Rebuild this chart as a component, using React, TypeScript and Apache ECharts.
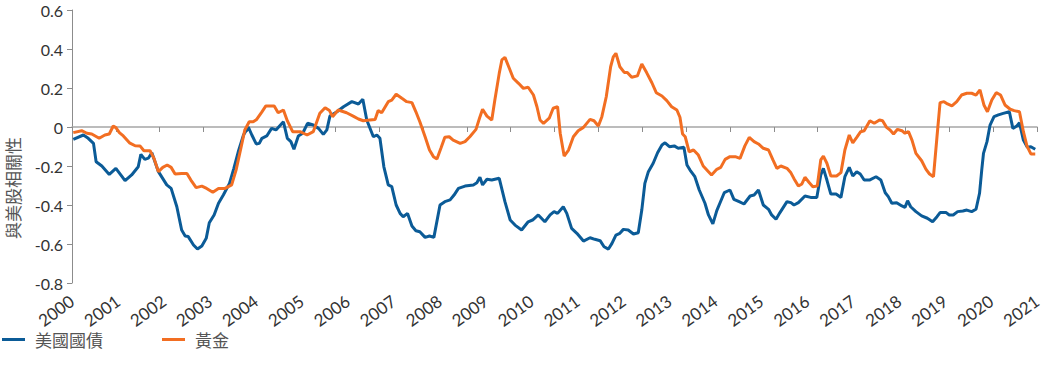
import React, { useEffect, useRef } from "react";
import * as echarts from "echarts";

const START_YEAR = 2000;
const yearLabels = [
  "2000", "2001", "2002", "2003", "2004", "2005", "2006", "2007", "2008", "2009", "2010",
  "2011", "2012", "2013", "2014", "2015", "2016", "2017", "2018", "2019", "2020", "2021",
];
const seriesNames = ["美國國債", "黃金"];
const yAxisTitle = "與美股相關性";

// years since 2000 / correlation — US Treasuries
const bondT = [
  0.03, 0.26, 0.37, 0.49, 0.55, 0.68, 0.85, 1.0, 1.21, 1.36, 1.51, 1.57, 1.66, 1.74, 1.82, 1.97,
  2.16, 2.26, 2.39, 2.5, 2.58, 2.65, 2.77, 2.86, 2.96, 3.06, 3.13, 3.24, 3.34, 3.45, 3.59, 3.69,
  3.79, 3.91, 4.02, 4.1, 4.2, 4.27, 4.33, 4.44, 4.55, 4.65, 4.82, 4.91, 4.99, 5.06, 5.16, 5.26,
  5.37, 5.5, 5.62, 5.73, 5.81, 5.88, 6.04, 6.19, 6.38, 6.53, 6.63, 6.72, 6.87, 6.95, 7.02, 7.11,
  7.21, 7.29, 7.39, 7.48, 7.55, 7.65, 7.75, 7.84, 7.93, 8.05, 8.15, 8.25, 8.39, 8.5, 8.62, 8.71,
  8.81, 8.96, 9.15, 9.23, 9.3, 9.36, 9.46, 9.57, 9.74, 9.87, 9.99, 10.1, 10.25, 10.4, 10.5, 10.63,
  10.78, 10.9, 10.99, 11.07, 11.2, 11.28, 11.39, 11.51, 11.66, 11.81, 11.92, 12.04, 12.13, 12.23,
  12.31, 12.4, 12.49, 12.57, 12.68, 12.8, 12.91, 12.99, 13.06, 13.14, 13.25, 13.35, 13.45, 13.52,
  13.62, 13.73, 13.82, 13.95, 14.02, 14.09, 14.2, 14.3, 14.43, 14.51, 14.61, 14.7, 14.77, 14.87,
  15.0, 15.09, 15.21, 15.32, 15.46, 15.55, 15.65, 15.76, 15.88, 15.95, 16.05, 16.14, 16.3, 16.39,
  16.46, 16.56, 16.71, 16.84, 16.98, 17.07, 17.13, 17.21, 17.3, 17.42, 17.53, 17.62, 17.72, 17.8,
  17.89, 17.97, 18.06, 18.18, 18.33, 18.44, 18.54, 18.61, 18.69, 18.8, 18.92, 18.99, 19.05, 19.12,
  19.24, 19.37, 19.5, 19.62, 19.72, 19.79, 19.93, 20.0, 20.09, 20.19, 20.31, 20.4, 20.51, 20.61,
  20.69, 20.74, 20.78, 20.86, 20.93, 21.02, 21.12, 21.23, 21.37, 21.45, 21.54, 21.6, 21.69, 21.78,
  21.86, 21.96,
];
const bondCorr = [
  -0.063, -0.041, -0.058, -0.084, -0.178, -0.2, -0.243, -0.212, -0.275, -0.246, -0.204, -0.14,
  -0.166, -0.16, -0.132, -0.229, -0.297, -0.315, -0.409, -0.528, -0.559, -0.562, -0.605, -0.626,
  -0.61, -0.571, -0.491, -0.451, -0.391, -0.349, -0.289, -0.212, -0.127, -0.041, 0.0, -0.041,
  -0.087, -0.084, -0.058, -0.046, -0.007, -0.015, 0.027, -0.058, -0.075, -0.114, -0.046, -0.032,
  0.019, 0.01, -0.007, -0.038, -0.015, 0.056, 0.078, 0.104, 0.13, 0.118, 0.142, 0.036, -0.05,
  -0.041, -0.058, -0.204, -0.297, -0.306, -0.4, -0.443, -0.46, -0.443, -0.508, -0.532, -0.537,
  -0.566, -0.559, -0.566, -0.4, -0.383, -0.374, -0.349, -0.315, -0.303, -0.297, -0.286, -0.258,
  -0.297, -0.268, -0.272, -0.263, -0.383, -0.477, -0.503, -0.528, -0.486, -0.477, -0.451, -0.486,
  -0.451, -0.434, -0.443, -0.409, -0.443, -0.52, -0.545, -0.585, -0.568, -0.576, -0.583, -0.614,
  -0.626, -0.597, -0.554, -0.545, -0.525, -0.528, -0.549, -0.542, -0.426, -0.289, -0.229, -0.186,
  -0.132, -0.092, -0.081, -0.101, -0.097, -0.109, -0.104, -0.195, -0.221, -0.255, -0.323, -0.391,
  -0.451, -0.497, -0.429, -0.391, -0.337, -0.323, -0.371, -0.383, -0.395, -0.354, -0.349, -0.323,
  -0.4, -0.422, -0.451, -0.473, -0.439, -0.383, -0.388, -0.4, -0.388, -0.354, -0.361, -0.361,
  -0.246, -0.212, -0.272, -0.344, -0.344, -0.361, -0.255, -0.207, -0.251, -0.229, -0.241, -0.272,
  -0.272, -0.255, -0.272, -0.337, -0.357, -0.391, -0.388, -0.405, -0.412, -0.378, -0.409, -0.434,
  -0.456, -0.468, -0.486, -0.46, -0.439, -0.439, -0.451, -0.451, -0.434, -0.431, -0.426, -0.434,
  -0.422, -0.34, -0.221, -0.135, -0.075, 0.01, 0.053, 0.062, 0.07, 0.078, -0.007, 0.005, 0.022,
  -0.067, -0.104, -0.101, -0.114,
];

// years since 2000 / correlation — Gold
const goldT = [
  0.03, 0.22, 0.34, 0.45, 0.62, 0.75, 0.85, 0.94, 1.0, 1.08, 1.17, 1.31, 1.44, 1.55, 1.64, 1.78,
  1.87, 1.97, 2.07, 2.17, 2.26, 2.35, 2.5, 2.62, 2.71, 2.83, 2.96, 3.07, 3.21, 3.34, 3.49, 3.64,
  3.74, 3.85, 3.94, 4.04, 4.13, 4.21, 4.33, 4.42, 4.61, 4.7, 4.82, 4.91, 5.03, 5.2, 5.36, 5.5,
  5.65, 5.77, 5.87, 5.94, 6.07, 6.26, 6.41, 6.53, 6.64, 6.79, 6.91, 6.98, 7.06, 7.21, 7.29, 7.39,
  7.52, 7.63, 7.75, 7.84, 7.93, 8.05, 8.15, 8.24, 8.32, 8.41, 8.5, 8.6, 8.69, 8.85, 8.96, 9.07,
  9.21, 9.29, 9.36, 9.46, 9.57, 9.64, 9.74, 9.8, 9.87, 9.97, 10.06, 10.18, 10.29, 10.4, 10.52,
  10.6, 10.67, 10.75, 10.88, 10.97, 11.07, 11.13, 11.22, 11.32, 11.43, 11.54, 11.66, 11.81, 11.9,
  12.0, 12.08, 12.18, 12.28, 12.34, 12.4, 12.49, 12.59, 12.66, 12.76, 12.89, 12.99, 13.1, 13.22,
  13.32, 13.45, 13.56, 13.67, 13.79, 13.86, 13.92, 13.98, 14.07, 14.17, 14.28, 14.39, 14.51,
  14.58, 14.7, 14.79, 14.89, 15.0, 15.12, 15.23, 15.34, 15.44, 15.55, 15.65, 15.76, 15.88, 15.98,
  16.07, 16.16, 16.3, 16.39, 16.46, 16.56, 16.64, 16.71, 16.81, 16.89, 16.99, 17.07, 17.13, 17.21,
  17.3, 17.43, 17.53, 17.62, 17.72, 17.8, 17.89, 17.98, 18.06, 18.19, 18.29, 18.41, 18.48, 18.57,
  18.65, 18.73, 18.82, 18.92, 18.99, 19.07, 19.15, 19.24, 19.37, 19.47, 19.55, 19.64, 19.72,
  19.79, 19.88, 19.96, 20.06, 20.17, 20.28, 20.4, 20.51, 20.61, 20.7, 20.79, 20.87, 20.97, 21.07,
  21.17, 21.27, 21.39, 21.48, 21.6, 21.69, 21.77, 21.86, 21.96,
];
const goldCorr = [
  -0.029, -0.019, -0.032, -0.036, -0.058, -0.041, -0.036, 0.005, -0.003, -0.029, -0.046, -0.081,
  -0.096, -0.097, -0.122, -0.122, -0.161, -0.229, -0.207, -0.195, -0.207, -0.241, -0.238, -0.238,
  -0.272, -0.311, -0.303, -0.315, -0.335, -0.315, -0.315, -0.297, -0.221, -0.109, -0.015, 0.027,
  0.027, 0.039, 0.078, 0.108, 0.108, 0.073, 0.087, 0.031, -0.024, -0.024, -0.041, -0.024, 0.07,
  0.099, 0.084, 0.053, 0.087, 0.073, 0.056, 0.041, 0.032, 0.036, 0.039, 0.084, 0.073, 0.13, 0.138,
  0.168, 0.147, 0.13, 0.125, 0.078, 0.027, -0.05, -0.118, -0.152, -0.164, -0.109, -0.053, -0.05,
  -0.067, -0.084, -0.075, -0.05, -0.012, 0.045, 0.091, 0.056, 0.036, 0.138, 0.275, 0.344, 0.357,
  0.301, 0.25, 0.224, 0.198, 0.204, 0.164, 0.104, 0.036, 0.019, 0.045, 0.096, 0.104, -0.032,
  -0.149, -0.118, -0.05, -0.019, -0.002, 0.039, 0.032, 0.005, 0.053, 0.155, 0.309, 0.36, 0.378,
  0.309, 0.28, 0.28, 0.255, 0.262, 0.323, 0.279, 0.227, 0.176, 0.159, 0.135, 0.104, 0.087, 0.05,
  -0.036, -0.05, -0.127, -0.118, -0.144, -0.2, -0.229, -0.246, -0.217, -0.207, -0.166, -0.152,
  -0.152, -0.161, -0.097, -0.053, -0.075, -0.087, -0.109, -0.118, -0.169, -0.212, -0.2, -0.212,
  -0.235, -0.265, -0.303, -0.292, -0.258, -0.286, -0.306, -0.303, -0.169, -0.149, -0.186, -0.251,
  -0.251, -0.234, -0.118, -0.041, -0.081, -0.053, -0.024, -0.019, 0.032, 0.019, 0.036, 0.032,
  -0.002, -0.015, -0.036, -0.012, -0.019, -0.032, -0.024, -0.067, -0.135, -0.173, -0.217, -0.241,
  -0.255, -0.05, 0.125, 0.13, 0.118, 0.108, 0.13, 0.164, 0.173, 0.173, 0.164, 0.19, 0.113, 0.078,
  0.138, 0.176, 0.164, 0.113, 0.091, 0.084, 0.078, -0.024, -0.097, -0.138, -0.138,
];

const BLUE = "#0b5b97";
const ORANGE = "#f26e22";
const LATIN = "Lato, 'Open Sans', 'Noto Sans CJK TC', sans-serif";
const CJK = "'Noto Sans CJK TC', 'Noto Sans', sans-serif";

export default function App() {
  const ref = useRef<HTMLDivElement>(null);
  useEffect(() => {
    if (!ref.current) return;
    const chart = echarts.init(ref.current, undefined, { renderer: "svg" });
    const toPairs = (t: number[], v: number[]) => t.map((x, i) => [START_YEAR + x, v[i]]);
    chart.setOption({
      animation: false,
      grid: { left: 72, right: 13, top: 10, bottom: 90, containLabel: false },
      legend: {
        left: 2,
        top: 331,
        padding: 0,
        icon: "rect",
        itemWidth: 23,
        itemHeight: 3,
        itemGap: 59,
        textStyle: { fontFamily: CJK, fontSize: 17, color: "#555", padding: [0, 0, 0, 5] },
        data: seriesNames,
      },
      xAxis: [
        {
          type: "value",
          min: START_YEAR,
          max: START_YEAR + 22,
          interval: 1,
          position: "bottom",
          axisLine: { onZero: true, lineStyle: { color: "#a6a6a6", width: 1.5 } },
          axisTick: { show: true, length: 5, lineStyle: { color: "#8c8c8c", width: 1 } },
          axisLabel: { show: false },
          splitLine: { show: false },
        },
        {
          type: "category",
          data: yearLabels,
          boundaryGap: false,
          position: "bottom",
          axisLine: { show: false },
          axisTick: { show: false },
          axisLabel: {
            rotate: 36,
            margin: 16,
            fontSize: 17,
            fontFamily: LATIN,
            color: "#333",
            interval: 0,
          },
          splitLine: { show: false },
        },
      ],
      yAxis: {
        type: "value",
        min: -0.8,
        max: 0.6,
        interval: 0.2,
        axisLine: { show: true, onZero: false, lineStyle: { color: "#8c8c8c", width: 1 } },
        axisTick: { show: true, length: 5, lineStyle: { color: "#8c8c8c" } },
        axisLabel: {
          margin: 9,
          fontSize: 16,
          fontFamily: LATIN,
          color: "#333",
          formatter: (v: number) => (Math.abs(v) < 1e-9 ? "0" : v.toFixed(1)),
        },
        splitLine: { show: false },
      },
      graphic: [
        {
          type: "text",
          x: 12,
          y: 188,
          rotation: Math.PI / 2,
          style: {
            text: yAxisTitle,
            font: `17px ${CJK}`,
            fill: "#555",
            align: "center",
            verticalAlign: "middle",
          },
        },
      ],
      series: [
        {
          name: seriesNames[0],
          type: "line",
          xAxisIndex: 0,
          data: toPairs(bondT, bondCorr),
          showSymbol: false,
          lineStyle: { color: BLUE, width: 3 },
          itemStyle: { color: BLUE },
        },
        {
          name: seriesNames[1],
          type: "line",
          xAxisIndex: 0,
          data: toPairs(goldT, goldCorr),
          showSymbol: false,
          lineStyle: { color: ORANGE, width: 3 },
          itemStyle: { color: ORANGE },
        },
      ],
    });
    return () => chart.dispose();
  }, []);
  return (
    <div
      ref={ref}
      style={{ position: "fixed", left: 0, top: 0, width: 1050, height: 373, background: "#fff" }}
    />
  );
}
